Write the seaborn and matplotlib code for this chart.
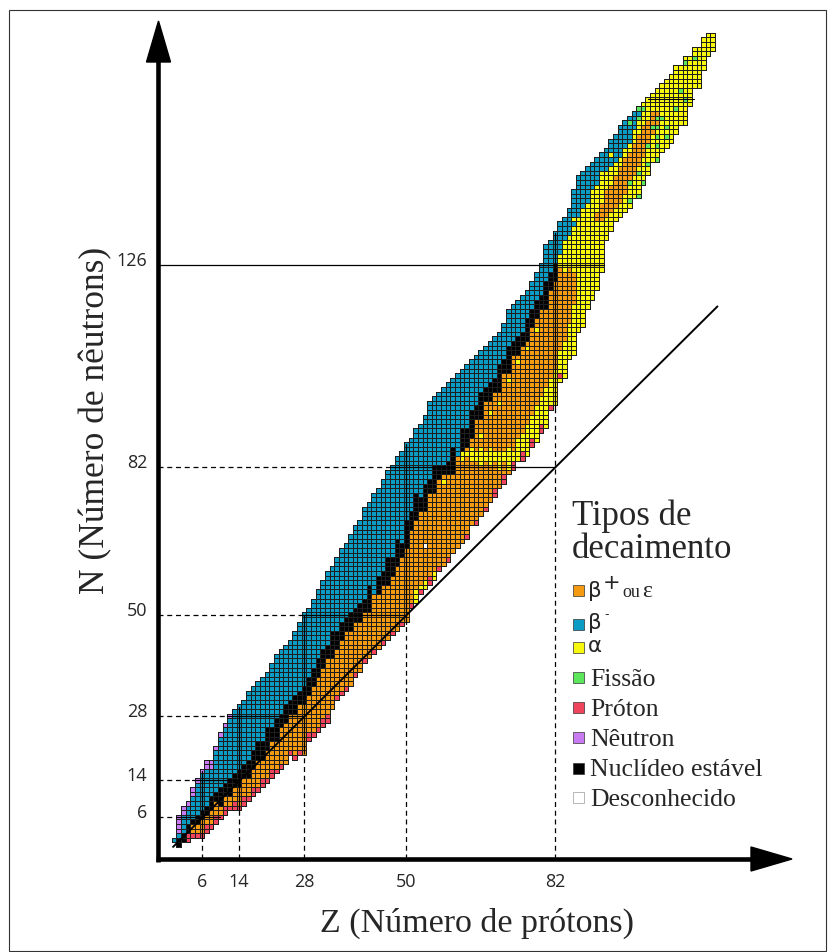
import numpy as np
import pandas as pd
import matplotlib
matplotlib.use("Agg")
import matplotlib.pyplot as plt
from matplotlib.colors import ListedColormap, to_rgba
from matplotlib.patches import Polygon, Rectangle
from matplotlib import font_manager
import seaborn as sns

# ---------------------------------------------------------------- data
# Light and medium nuclei, Z = 0 .. 82 (index = Z)
light_n_lo = [1, 0, 1, 1, 2, 2, 2, 3, 4, 5, 6, 7, 8, 8, 8, 9, 10, 11, 12, 13,
              14, 15, 16, 17, 18, 20, 19, 20, 20, 23, 24, 25, 26, 27, 30, 32, 33, 34, 35, 37,
              38, 40, 41, 42, 43, 44, 45, 46, 47, 48, 49, 52, 53, 55, 56, 57, 58, 60, 61, 62,
              64, 65, 66, 67, 70, 70, 72, 73, 75, 76, 78, 79, 81, 82, 84, 84, 85, 87, 88, 90,
              91, 95, 96]
light_n_hi = [1, 6, 8, 9, 12, 14, 16, 18, 18, 21, 24, 26, 28, 29, 30, 31, 33, 34, 35, 36,
              37, 39, 41, 42, 43, 44, 46, 48, 50, 51, 53, 55, 57, 59, 60, 62, 64, 65, 67, 69,
              70, 73, 74, 76, 77, 79, 81, 82, 84, 85, 87, 88, 90, 91, 93, 96, 97, 98, 99, 100,
              101, 102, 103, 104, 105, 106, 107, 108, 109, 110, 111, 113, 116, 117, 118, 119, 120, 122, 124, 126,
              130, 131, 133]
# run of stable nuclides in each column (None = no stable isotope)
stable_lo = [None, 0, 1, 3, 5, 5, 6, 7, 8, 10,
             9, 11, 11, 13, 13, 15, 15, 17, 19, 19,
             21, 23, 23, 26, 27, 29, 29, 31, 31, 33,
             35, 37, 39, 41, 41, 43, 45, 47, 47, 49,
             49, 51, 51, None, 55, 57, 57, 59, 61, 63,
             65, 69, 71, 73, 73, 77, 77, 80, 81, 81,
             81, None, 86, 87, 89, 93, 93, 97, 97, 99,
             99, 103, 103, 107, 107, 109, 110, 113, 115, 117,
             117, 121, 123]
stable_hi = [None, 1, 2, 4, 5, 6, 7, 8, 10, 11,
             12, 13, 14, 15, 16, 17, 18, 20, 22, 22,
             25, 25, 27, 28, 30, 31, 32, 33, 34, 36,
             38, 40, 42, 43, 46, 46, 48, 49, 50, 51,
             52, 53, 56, None, 58, 59, 62, 62, 66, 65,
             70, 72, 76, 75, 78, 79, 82, 82, 82, 83,
             86, None, 90, 90, 94, 95, 98, 99, 100, 101,
             104, 105, 108, 109, 110, 111, 114, 116, 118, 119,
             122, 124, 126]
# first beta-minus neutron number for elements without a stable isotope
beta_minus_from = {0: 1, 43: 55, 61: 85}
# proton emitters at the neutron-deficient edge / neutron emitters at the rich edge
light_proton_count = [0, 0, 0, 2, 1, 1, 1, 2, 1, 2, 1, 2, 1, 2, 1, 2, 1, 2, 1, 2,
                      1, 2, 1, 1, 0, 1, 1, 1, 0, 2, 1, 1, 2, 2, 0, 1, 1, 1, 0, 1,
                      0, 1, 0, 1, 0, 1, 0, 1, 0, 1, 0, 1, 0, 1, 0, 2, 0, 1, 0, 1,
                      0, 0, 0, 1, 0, 1, 0, 1, 0, 2, 0, 2, 0, 2, 0, 2, 0, 2, 0, 2,
                      0, 1, 0]
light_neutron_count = [0, 4, 2, 1, 2, 1, 1, 2, 2, 1, 1, 1, 1] + [0] * 70

# alpha emitters on the neutron-deficient side
alpha_z = [52, 53, 54, 56, 60, 62, 64, 65, 66, 67, 68, 69, 70, 71, 72, 73, 74, 75, 76, 77, 78, 79, 80, 81, 82]
alpha_lo = [53, 55, 56, 58, 84, 84, 84, 84, 83, 84, 83, 84, 82, 84, 82, 82, 84, 84, 85, 87, 88, 90, 91, 95, 96]
alpha_hi = [55, 56, 57, 59, 84, 85, 86, 85, 86, 85, 86, 85, 85, 85, 86, 85, 88, 89, 91, 93, 95, 97, 99, 101, 103]
extra_alpha_z = [58, 60, 62, 63, 66, 68, 70, 72, 74, 76, 78, 86, 88, 90, 92, 94]
extra_alpha_n = [79, 83, 85, 85, 89, 94, 96, 101, 105, 108, 112, 136, 138, 142, 146, 150]

# Heavy nuclei, Z = 83 .. 116
heavy_z0 = 83
heavy_n_lo = [101, 102, 106, 107, 112, 113, 117, 119, 121, 125, 132, 134, 136, 137, 138, 139, 141, 141, 144,
              146, 149, 149, 151, 152, 153, 155, 157, 157, 161, 165, 165, 169, 172, 173]
heavy_n_hi = [135, 136, 138, 142, 145, 146, 147, 148, 149, 150, 151, 153, 154, 156, 157, 158, 159, 160, 161,
              162, 163, 164, 165, 166, 167, 169, 169, 171, 171, 173, 173, 175, 176, 176]
heavy_beta_minus_from = [129, 132, 133, 135, 137, 139, 140, 142, 144, 146, 147, 148, 149, 150, 152, 153, 156,
                         159, None, None, None, None, None, None, None, None, None, None, None, None, None,
                         None, None, None]
heavy_ec_lo = [108, 110, 114, 118, None, None, None, None, 136, 136, 137, 138, 139, 140, 142, 144, 146, 148,
               150, 152, 155, 157, None, None, None, None, None, None, None, None, None, None, None, None]
heavy_ec_hi = [125, 124, 125, 124, None, None, None, None, 137, 139, 142, 143, 145, 147, 149, 150, 152, 154,
               156, 157, 159, 159, None, None, None, None, None, None, None, None, None, None, None, None]
fission_z = [98, 100, 98, 101, 100, 102, 104, 102, 104, 104, 106, 104, 106, 103, 104, 105, 100, 98,
             100, 101, 106, 107, 110, 112, 110, 108, 109]
fission_n = [140, 141, 144, 144, 146, 148, 149, 152, 152, 154, 154, 156, 156, 156, 158, 158, 158, 157,
             160, 160, 167, 168, 170, 171, 162, 160, 164]
extra_proton_z = [83]
extra_proton_n = [102]
unknown_z = [54]
unknown_n = [65]

magic = [6, 14, 28, 50, 82, 126]
h_dash_to_z = [1.3, 3.9, 11.4, 27.0, 46.5, None]
h_end_z = [10.0, 14.0, 28.0, 50.0, 82.0, 92.5]
v_magic = [6, 14, 28, 50, 82]
v_dash_to_n = [1.5, 6.6, 20.0, 48.0, 95.0]
v_end_n = [16, 30, 50, 87, 133]

legend_colors = ["#F59B12", "#0A9CC4", "#F8F80C", "#5CE65C", "#F0435C", "#C97CF2", "#000000", "#FFFFFF"]
legend_labels = ["β+ou ε", "β-", "α", "Fissão", "Próton", "Nêutron", "Nuclídeo estável", "Desconhecido"]

# ---------------------------------------------------------------- grid of decay modes
BP, BM, ALPHA, FISS, PROT, NEUT, STAB, UNK = range(8)
Z_MAX, N_MAX = 116, 177
codes = np.full((N_MAX + 1, Z_MAX + 1), np.nan)

for z in range(len(light_n_lo)):
    lo, hi = light_n_lo[z], light_n_hi[z]
    s_lo, s_hi = stable_lo[z], stable_hi[z]
    bm_from = s_hi + 1 if s_hi is not None else beta_minus_from[z]
    for n in range(lo, hi + 1):
        if n >= bm_from:
            c = BM
        elif s_lo is not None and n >= s_lo:
            c = STAB
        else:
            c = BP
        codes[n, z] = c

for i, z in enumerate(range(heavy_z0, Z_MAX + 1)):
    lo, hi = heavy_n_lo[i], heavy_n_hi[i]
    for n in range(lo, hi + 1):
        c = ALPHA
        if heavy_ec_lo[i] is not None and heavy_ec_lo[i] <= n <= heavy_ec_hi[i]:
            c = BP
        if heavy_beta_minus_from[i] is not None and n >= heavy_beta_minus_from[i]:
            c = BM
        codes[n, z] = c


def paint(z, n, c):
    if 0 <= n <= N_MAX and not np.isnan(codes[n, z]) and codes[n, z] != STAB:
        codes[n, z] = c


for z, a, b in zip(alpha_z, alpha_lo, alpha_hi):
    for n in range(a, b + 1):
        paint(z, n, ALPHA)
for z, n in zip(extra_alpha_z, extra_alpha_n):
    paint(z, n, ALPHA)
for z in range(len(light_n_lo)):
    for k in range(light_proton_count[z]):
        paint(z, light_n_lo[z] + k, PROT)
    for k in range(light_neutron_count[z]):
        paint(z, light_n_hi[z] - k, NEUT)
for z, n in zip(extra_proton_z, extra_proton_n):
    paint(z, n, PROT)
for z, n in zip(fission_z, fission_n):
    paint(z, n, FISS)
for z, n in zip(unknown_z, unknown_n):
    paint(z, n, UNK)

table = pd.DataFrame(codes, index=range(N_MAX + 1), columns=range(Z_MAX + 1))

# ---------------------------------------------------------------- figure
W, H = 834, 953
X0, SX = 174.0, 4.645     # pixel x of Z = 0, pixels per proton
Y0, SY = 845.6, 4.6       # pixel y of N = 0, pixels per neutron


def u_px(px):
    return (px - X0) / SX + 0.5


def v_px(py):
    return (Y0 - py) / SY + 0.5


avail = {f.name for f in font_manager.fontManager.ttflist}


def pick(*names):
    for nm in names:
        if nm in avail:
            return nm
    return "DejaVu Sans"


SERIF = pick("Liberation Serif", "DejaVu Serif")
TICKF = pick("Liberation Sans Narrow", "Open Sans", "DejaVu Sans")
GREEK = "DejaVu Sans"

sns.set_style("white")
plt.rcParams["font.family"] = [SERIF, "DejaVu Sans"]

fig = plt.figure(figsize=(W / 100, H / 100), dpi=100)
fig.patch.set_facecolor("white")
ax = fig.add_axes([0, 0, 1, 1])

sns.heatmap(table, mask=table.isna(), cmap=ListedColormap(legend_colors), vmin=-0.5, vmax=7.5,
            cbar=False, linewidths=0.55, linecolor="#1e1e1e", xticklabels=False, yticklabels=False, ax=ax)
# outline only the cells that hold a nuclide
mesh = ax.collections[0]
valid = ~table.isna().values.ravel()
edge = np.zeros((valid.size, 4))
edge[valid] = to_rgba("#1e1e1e")
mesh.set_edgecolor(edge)

ax.set_xlim(u_px(0), u_px(W))
ax.set_ylim(v_px(H), v_px(0))
ax.axis("off")

# magic-number guide lines
z_axis, n_axis = (158 - X0) / SX, (Y0 - 860) / SY
for m, dz, ez in zip(magic, h_dash_to_z, h_end_z):
    y = m + 0.5
    if dz is None:
        ax.plot([z_axis + 0.5, ez + 0.5], [y, y], color="black", lw=0.9, zorder=5)
    else:
        ax.plot([z_axis + 0.5, dz + 0.5], [y, y], color="black", lw=0.9, ls=(0, (4, 3)), zorder=5)
        ax.plot([dz + 0.5, ez + 0.5], [y, y], color="black", lw=0.9, zorder=5)
for m, dn, en in zip(v_magic, v_dash_to_n, v_end_n):
    x = m + 0.5
    ax.plot([x, x], [n_axis + 0.5, dn + 0.5], color="black", lw=0.9, ls=(0, (4, 3)), zorder=5)
    ax.plot([x, x], [dn + 0.5, en + 0.5], color="black", lw=0.9, zorder=5)
# deformed shell line near N = 162
ax.plot([102 + 0.5, 112 + 0.5], [162.5, 162.5], color="black", lw=0.8, zorder=5)

# N = Z line
ax.plot([0.3, 117.5], [0.0, 117.5], color="black", lw=1.4, zorder=6)

# axes with arrow heads
ax.plot([u_px(158), u_px(158)], [v_px(863), v_px(58)], color="black", lw=3.3, solid_capstyle="butt", zorder=7)
ax.plot([u_px(155.5), u_px(756)], [v_px(860), v_px(860)], color="black", lw=3.3, solid_capstyle="butt", zorder=7)
ax.add_patch(Polygon([(u_px(158.5), v_px(22)), (u_px(146.5), v_px(63)), (u_px(170.5), v_px(63))],
                     closed=True, color="black", zorder=8))
ax.add_patch(Polygon([(u_px(792), v_px(860)), (u_px(751), v_px(848)), (u_px(751), v_px(872))],
                     closed=True, color="black", zorder=8))


def put(px, py, s, **kw):
    fig.text(px / W, 1 - py / H, s, **kw)


# tick labels
for m in v_magic:
    put(X0 + m * SX, 882, str(m), ha="center", va="center", fontsize=13, family=TICKF)
for m in magic:
    put(147, Y0 - m * SY - 5, str(m), ha="right", va="center", fontsize=13, family=TICKF)

# axis titles
put(477, 932, "Z (Número de prótons)", ha="center", va="baseline", fontsize=24.5, family=SERIF)
put(96, 420, "N (Número de nêutrons)", ha="center", va="center", rotation=90, fontsize=25.5, family=SERIF)

# legend
put(572, 525, "Tipos de", ha="left", va="baseline", fontsize=25, family=SERIF)
put(572, 558, "decaimento", ha="left", va="baseline", fontsize=25, family=SERIF)

sq_cy = [591, 625, 648, 678.5, 708, 738, 769, 798.5]
base = [597, 629, 652, 686, 716, 746, 776, 806]
for i, col in enumerate(legend_colors):
    ec = "#9a9a9a" if col == "#FFFFFF" else "#333333"
    fig.add_artist(Rectangle((573 / W, 1 - (sq_cy[i] + 5.5) / H), 11 / W, 11 / H,
                             transform=fig.transFigure, facecolor=col, edgecolor=ec, lw=0.5))

# beta-plus entry: beta, superscript plus, "ou", epsilon
put(588, base[0], "β", ha="left", va="baseline", fontsize=15.5, family=GREEK)
put(603, base[0] - 8, "+", ha="left", va="baseline", fontsize=15, family=GREEK)
put(622, base[0], "ou", ha="left", va="baseline", fontsize=13, family=SERIF)
put(642, base[0], "ε", ha="left", va="baseline", fontsize=17, family=SERIF)
# beta-minus entry
put(588, base[1], "β", ha="left", va="baseline", fontsize=15.5, family=GREEK)
put(604, base[1] - 11, "-", ha="left", va="baseline", fontsize=9, family=GREEK)
# alpha entry
put(588, base[2], "α", ha="left", va="baseline", fontsize=15.5, family=GREEK)
for i in range(3, len(legend_labels)):
    put(590, base[i], legend_labels[i], ha="left", va="baseline", fontsize=18.5, family=SERIF)

# thin frame
fig.add_artist(Rectangle((9 / W, 1 - 952 / H), 817 / W, 941 / H, transform=fig.transFigure,
                         facecolor="none", edgecolor="#333333", lw=0.8))

fig.savefig("out.png", dpi=100, facecolor="white")
